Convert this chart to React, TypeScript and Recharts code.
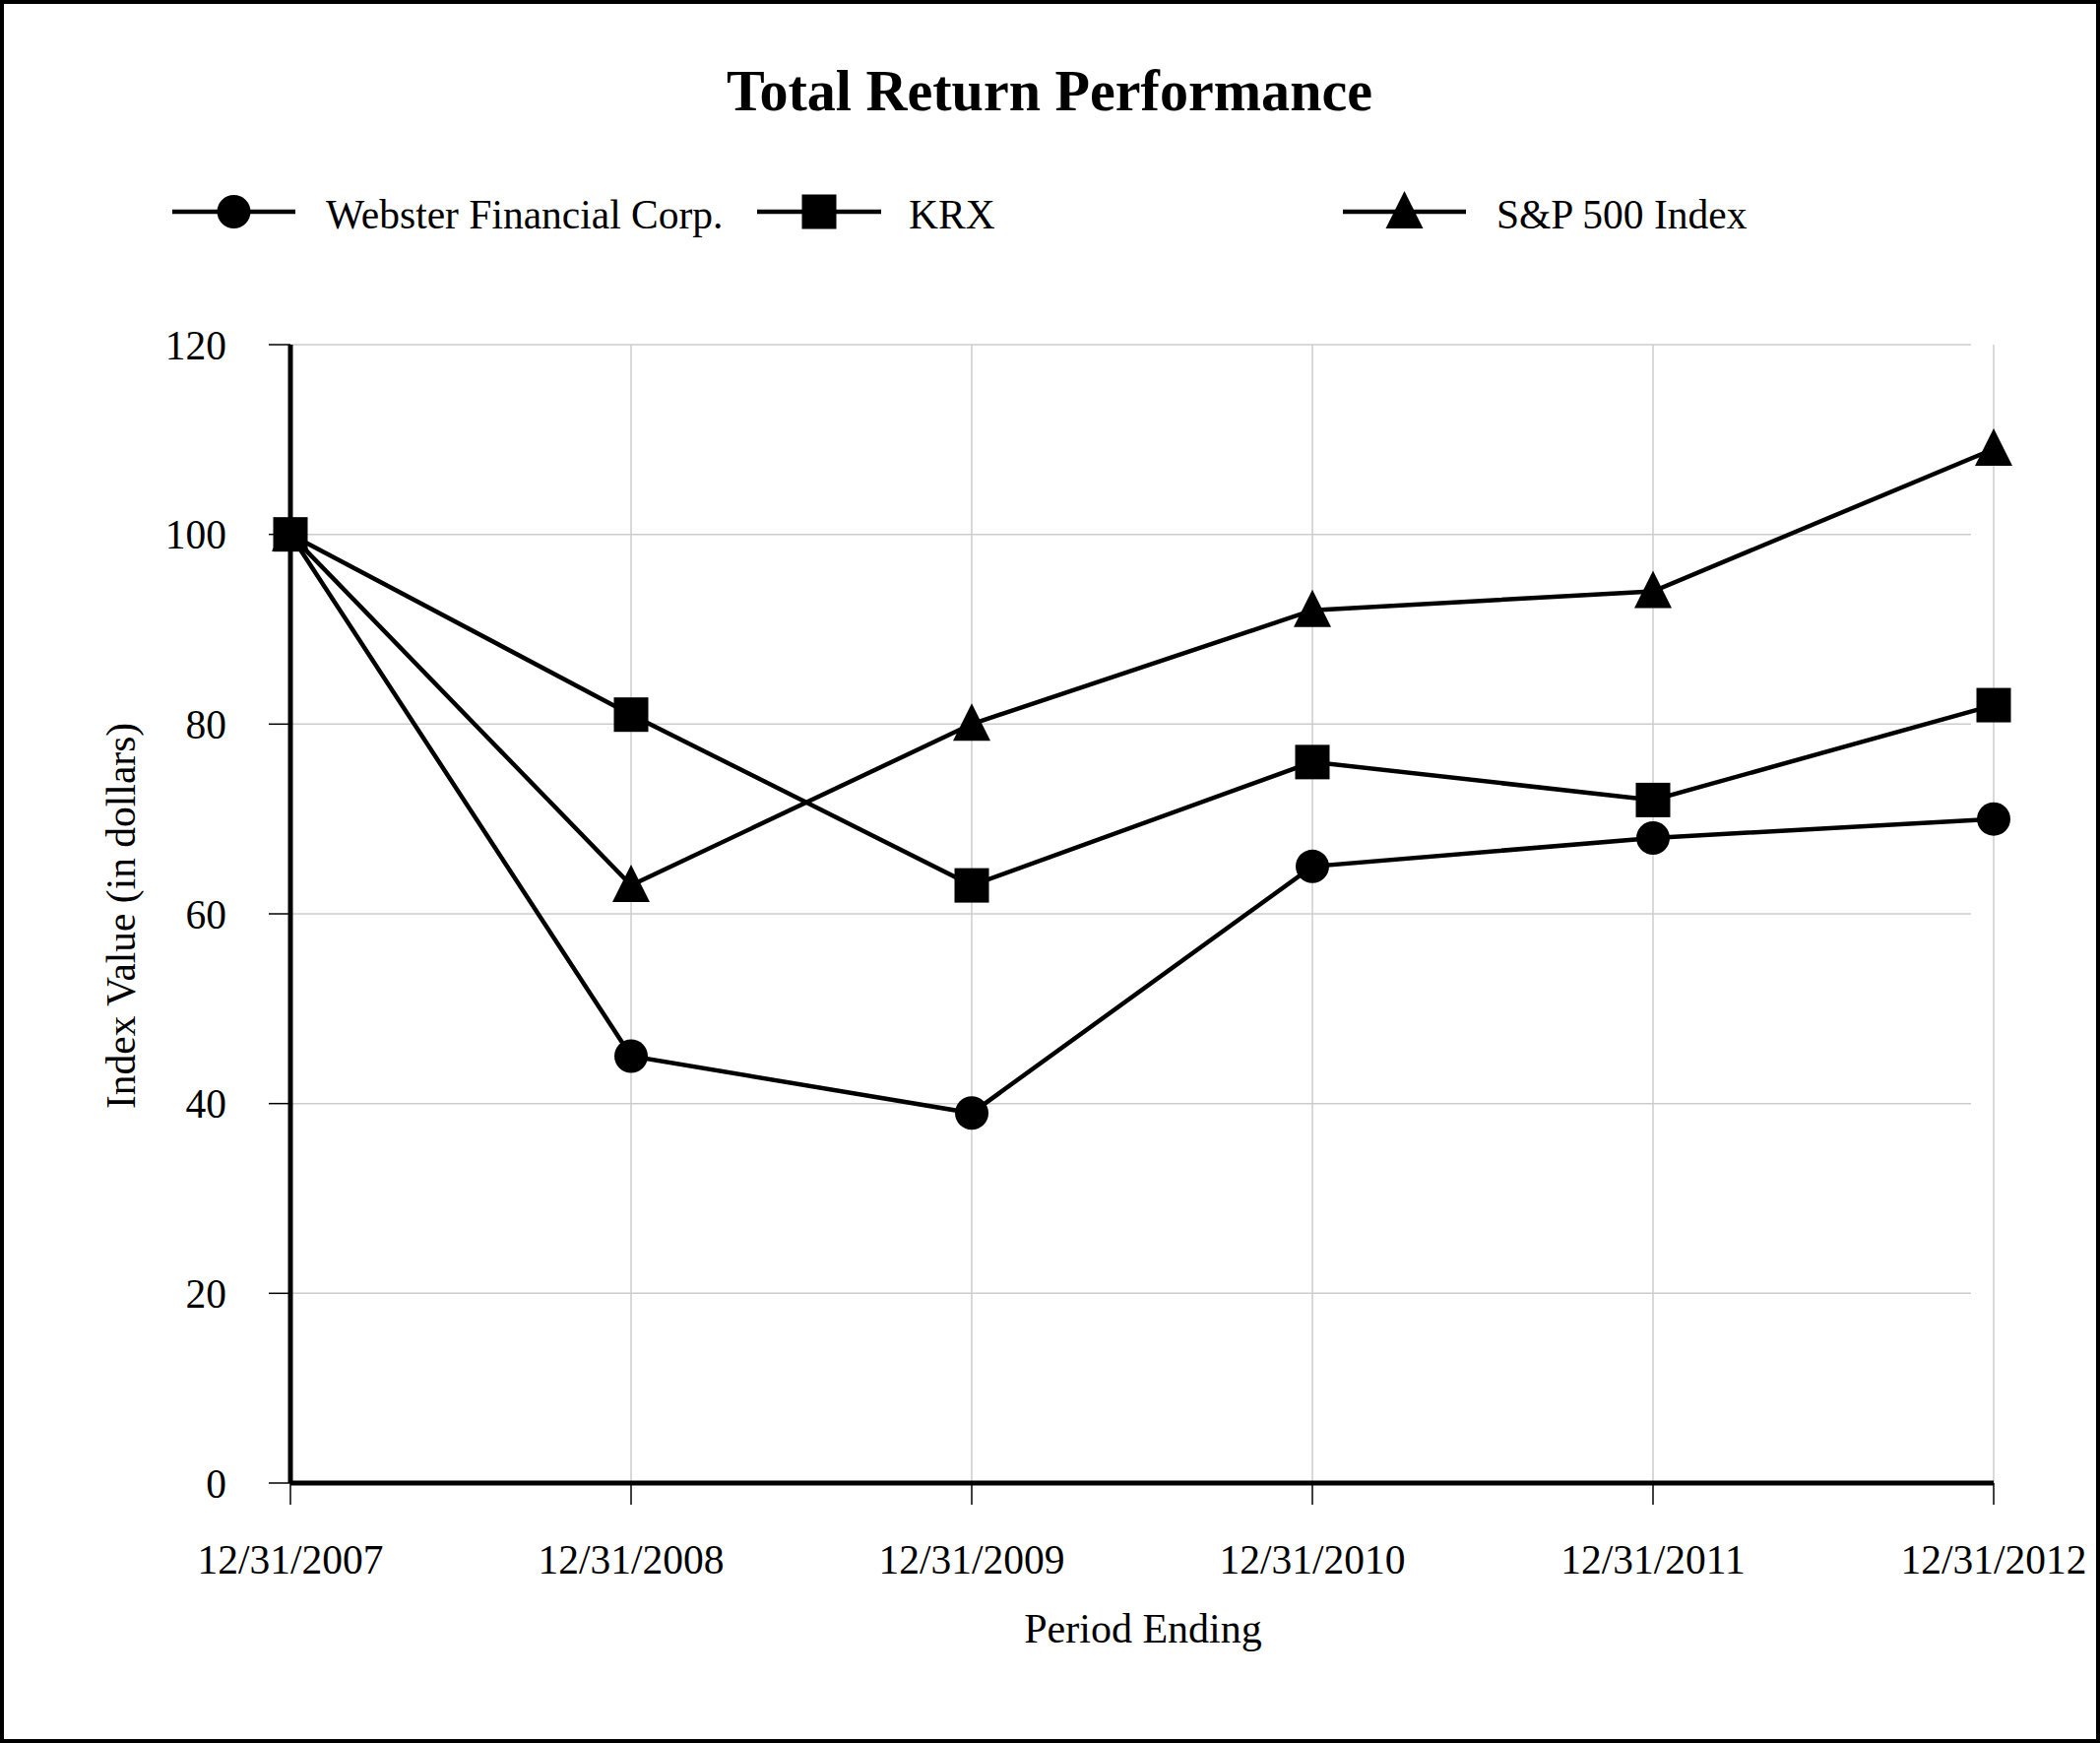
import { LineChart, Line, XAxis, YAxis, CartesianGrid } from 'recharts';

const CATEGORIES = ['12/31/2007', '12/31/2008', '12/31/2009', '12/31/2010', '12/31/2011', '12/31/2012'];
const WEBSTER = [100, 45, 39, 65, 68, 70];
const KRX = [100, 81, 63, 76, 72, 82];
const SP500 = [100, 63, 80, 92, 94, 109];
const Y_TICKS = [0, 20, 40, 60, 80, 100, 120];

const SERIES = [
  { key: 'webster', name: 'Webster Financial Corp.', shape: 'circle' },
  { key: 'krx', name: 'KRX', shape: 'square' },
  { key: 'sp', name: 'S&P 500 Index', shape: 'triangle' },
];

const data = CATEGORIES.map((date, i) => ({
  date,
  webster: WEBSTER[i],
  krx: KRX[i],
  sp: SP500[i],
}));

const FONT = '"Liberation Serif", "Times New Roman", serif';
const FS = 41.5;
const W = 2133;
const H = 1770;

// marker drawn for both the series points and the legend
const Marker = ({ shape, cx, cy }: { shape: string; cx: number; cy: number }) => {
  if (shape === 'circle') return <circle cx={cx} cy={cy} r={17} fill="#000" />;
  if (shape === 'square')
    return <rect x={cx - 17.5} y={cy - 17.5} width={35} height={35} fill="#000" />;
  return (
    <polygon
      points={`${cx},${cy - 21} ${cx - 19},${cy + 17} ${cx + 19},${cy + 17}`}
      fill="#000"
    />
  );
};

// legend positions: line start, line end, text start
const LEGEND_POS = [
  { x1: 175, x2: 300, tx: 331 },
  { x1: 769, x2: 895, tx: 923 },
  { x1: 1364, x2: 1489, tx: 1520 },
];

export default function App() {
  return (
    <div style={{ position: 'absolute', left: 0, top: 0, width: W, height: H, background: '#fff' }}>
      <LineChart
        width={W}
        height={H}
        data={data}
        margin={{ top: 350, right: 108, left: 145, bottom: 164 }}
      >
        <CartesianGrid
          stroke="#cccccc"
          strokeWidth={1.5}
          horizontal={(p: any) => (
            <line
              key={`h-${p.index}`}
              x1={p.x1}
              y1={p.y1}
              x2={p.x2 - 23}
              y2={p.y2}
              stroke="#cccccc"
              strokeWidth={1.5}
            />
          )}
        />
        <XAxis
          dataKey="date"
          height={100}
          tickSize={22}
          tickMargin={41}
          axisLine={{ stroke: '#000', strokeWidth: 5 }}
          tickLine={{ stroke: '#000', strokeWidth: 1.5 }}
          tick={{ fill: '#000', fontSize: FS, fontFamily: FONT }}
          interval={0}
        />
        <YAxis
          width={150}
          domain={[0, 120]}
          ticks={Y_TICKS}
          tickSize={22}
          tickMargin={43}
          axisLine={{ stroke: '#000', strokeWidth: 5 }}
          tickLine={{ stroke: '#000', strokeWidth: 1.5 }}
          tick={{ fill: '#000', fontSize: FS, fontFamily: FONT }}
        />
        {SERIES.map((s) => (
          <Line
            key={s.key}
            dataKey={s.key}
            name={s.name}
            type="linear"
            stroke="#000"
            strokeWidth={4.5}
            isAnimationActive={false}
            dot={(p: any) => (
              <Marker key={`${s.key}-${p.index}`} shape={s.shape} cx={p.cx} cy={p.cy} />
            )}
          />
        ))}
      </LineChart>

      <svg
        width={W}
        height={H}
        style={{ position: 'absolute', left: 0, top: 0, pointerEvents: 'none' }}
      >
        <rect x={2} y={2} width={W - 4} height={H - 4} fill="none" stroke="#000" strokeWidth={4} />
        <text
          x={1066}
          y={112}
          textAnchor="middle"
          fontFamily={FONT}
          fontWeight="bold"
          fontSize={60}
          textLength={656}
          lengthAdjust="spacingAndGlyphs"
        >
          Total Return Performance
        </text>
        {SERIES.map((s, i) => {
          const pos = LEGEND_POS[i];
          return (
            <g key={s.key}>
              <line x1={pos.x1} y1={215} x2={pos.x2} y2={215} stroke="#000" strokeWidth={4.5} />
              <Marker shape={s.shape} cx={(pos.x1 + pos.x2) / 2} cy={215} />
              <text x={pos.tx} y={232} fontFamily={FONT} fontSize={FS}>
                {s.name}
              </text>
            </g>
          );
        })}
        <text
          transform="translate(137, 930) rotate(-90)"
          textAnchor="middle"
          fontFamily={FONT}
          fontSize={FS}
        >
          Index Value (in dollars)
        </text>
        <text x={1161} y={1668} textAnchor="middle" fontFamily={FONT} fontSize={42}>
          Period Ending
        </text>
      </svg>
    </div>
  );
}
